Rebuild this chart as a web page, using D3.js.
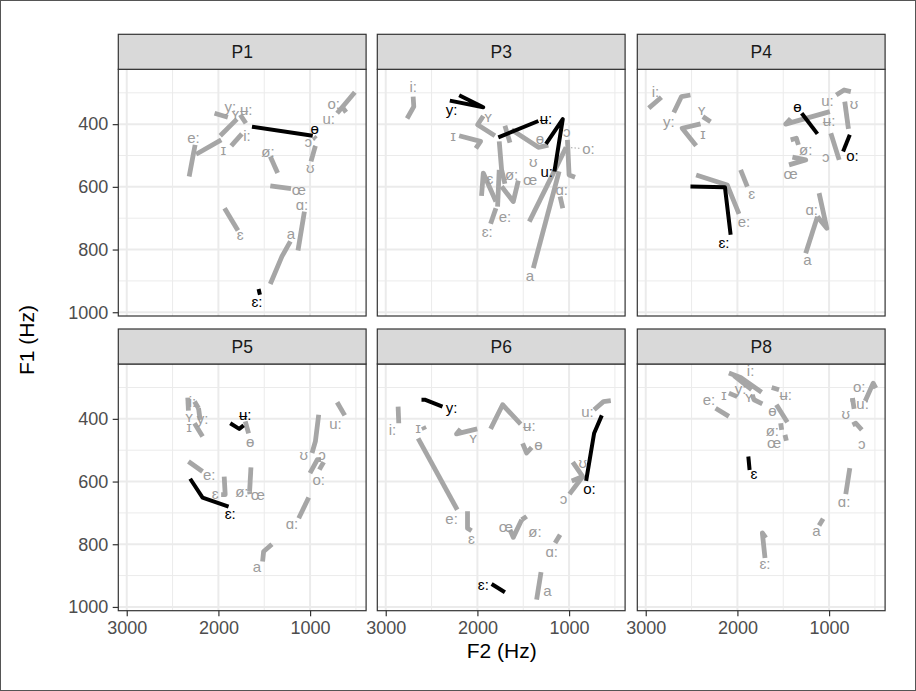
<!DOCTYPE html>
<html><head><meta charset="utf-8">
<script src="https://cdn.jsdelivr.net/npm/d3@7"></script>
<style>
body{margin:0;background:#fff;}
text{font-family:"Liberation Sans",Arial,"Noto Sans","DejaVu Sans",sans-serif;}
text.lab{font-family:"Liberation Sans","Noto Sans","DejaVu Sans",sans-serif;}
</style></head>
<body><svg id="c" width="916" height="691"></svg>
<script>
// ---------- data ----------
const panels = ["P1","P3","P4","P5","P6","P8"];
const xTicks = [3000,2000,1000];
const xMinor = [2500,1500,500];
const yTicks = [400,600,800,1000];
const yMinor = [300,500,700,900];
const xDomain = [3092, 389];
const yDomain = [225, 1012];
// each entry: [vowel, highlighted(1=black), trajectory [[F2,F1],...], label position [F2,F1]]
const P1 = [
 ["y:",0,[[2042,365],[1897,378]],[1871,344]],
 ["ʏ",0,[[1980,437],[1798,384]],[1816,365]],
 ["ʉ:",0,[[1762,370],[1700,397]],[1696,354]],
 ["i:",0,[[1860,469],[1744,431]],[1689,437]],
 ["e:",0,[[2319,567],[2254,466]],[2272,442]],
 ["ɪ",0,[[2243,496],[1969,450]],[1944,480]],
 ["ø:",0,[[1434,503],[1354,556]],[1460,487]],
 ["œ",0,[[1434,597],[1208,606]],[1124,610]],
 ["ɔ:",0,[[960,440],[935,447]],[997,455]],
 ["ʊ",0,[[942,469],[990,519]],[997,537]],
 ["u:",0,[[512,298],[705,365]],[796,381]],
 ["o:",0,[[640,349],[607,362]],[742,333]],
 ["ɑ:",0,[[1062,679],[1132,803]],[1088,657]],
 ["a",0,[[1215,774],[1307,822],[1434,910]],[1208,748]],
 ["ɛ",0,[[1933,668],[1787,739]],[1762,753]],
 ["ɵ",1,[[1634,408],[971,437]],[950,415]],
 ["ɛ:",1,[[1562,926],[1547,944]],[1580,966]]
];
const P3 = [
 ["i:",0,[[2701,312],[2694,344],[2767,382]],[2701,280]],
 ["ʏ",0,[[1936,374],[1998,402],[1809,437]],[1882,376]],
 ["ɪ",0,[[2199,437],[1966,455],[2017,477]],[2264,437]],
 ["ɵ",0,[[1700,405],[1645,459]],[1317,447]],
 ["ʊ",0,[[1627,418],[1335,474],[1226,467]],[1390,519]],
 ["ɔ",0,[[1018,450],[1000,562],[935,569]],[1026,424]],
 ["o:",0,[[1033,474],[1434,711]],[789,477]],
 ["ɑ:",0,[[1098,631],[1069,668]],[1080,610]],
 ["a",0,[[1390,859],[1109,551]],[1426,884]],
 ["ɛ",0,[[1955,629],[1936,556],[1798,647]],[1864,572]],
 ["ø:",0,[[1762,455],[1736,546],[1700,590]],[1627,562]],
 ["œ",0,[[1736,599],[1609,647],[1554,580]],[1426,578]],
 ["e:",0,[[1780,663],[1762,546]],[1700,695]],
 ["ɛ:",0,[[1798,668],[1856,718]],[1893,742]],
 ["y:",1,[[2301,325],[1936,346],[2199,308]],[2282,354]],
 ["ʉ:",1,[[1772,442],[1335,390]],[1252,381]],
 ["u:",1,[[1252,463],[1069,384],[1160,551]],[1244,551]]
];
const P4 = [
 ["i:",0,[[2967,349],[2829,314]],[2894,296]],
 ["y:",0,[[2694,363],[2610,312],[2512,307]],[2748,392]],
 ["ʏ",0,[[2377,376],[2293,392]],[2391,352]],
 ["ɪ",0,[[2450,469],[2603,413],[2402,399]],[2377,429]],
 ["e:",0,[[2450,562],[2111,594],[1983,686]],[1929,711]],
 ["ɛ",0,[[1965,546],[1892,599]],[1845,620]],
 ["ʉ:",0,[[992,360],[1474,400],[1419,382]],[1000,388]],
 ["u:",0,[[922,307],[836,291],[763,296]],[1018,325]],
 ["ʊ",0,[[829,328],[789,415]],[727,335]],
 ["ɔ",0,[[981,429],[890,514]],[1036,503]],
 ["ø:",0,[[1419,450],[1357,445],[1335,466]],[1255,480]],
 ["œ",0,[[1437,530],[1255,514],[1400,505]],[1419,556]],
 ["ɑ:",0,[[1109,620],[1025,732],[1127,695]],[1189,671]],
 ["a",0,[[1255,812],[1127,695]],[1237,833]],
 ["ɵ",1,[[1299,365],[1127,431]],[1346,344]],
 ["o:",1,[[847,487],[774,434]],[745,501]],
 ["ɛ:",1,[[2512,599],[2136,601],[2074,753]],[2147,778]]
];
const P5 = [
 ["i:",0,[[2334,332],[2327,374]],[2283,345]],
 ["ʏ",0,[[2261,345],[2217,366]],[2319,393]],
 ["y:",0,[[2217,366],[2199,403]],[2173,398]],
 ["ɪ",0,[[2261,414],[2173,456]],[2319,424]],
 ["ɵ",0,[[1707,408],[1671,446]],[1653,472]],
 ["e:",0,[[2327,536],[2173,568]],[2101,579]],
 ["ɛ",0,[[1937,584],[1926,642],[1970,642]],[2035,637]],
 ["ø:",0,[[1645,555],[1660,632]],[1744,632]],
 ["œ",0,[[1660,632],[1656,640]],[1569,642]],
 ["u:",0,[[705,347],[622,389]],[724,414]],
 ["ʊ",0,[[906,387],[942,472],[979,509]],[1070,513]],
 ["ɔ",0,[[1001,573],[921,530],[881,530]],[869,515]],
 ["o:",0,[[899,562],[852,538]],[906,594]],
 ["ɑ:",0,[[1124,717],[1015,651]],[1197,733]],
 ["a",0,[[1518,855],[1507,823],[1416,800]],[1580,871]],
 ["ʉ:",1,[[1871,414],[1773,432],[1725,421]],[1707,387]],
 ["ɛ:",1,[[2308,591],[2173,651],[1889,680]],[1871,701]]
];
const P6 = [
 ["i:",0,[[2865,361],[2858,414]],[2927,435]],
 ["ɪ",0,[[2592,424],[2574,435]],[2647,428]],
 ["e:",0,[[2647,462],[2220,690]],[2282,717]],
 ["ʏ",0,[[2002,432],[2228,448],[2184,432]],[2046,459]],
 ["ʉ:",0,[[1856,432],[1725,355],[1528,417]],[1434,421]],
 ["ɵ",0,[[1507,478],[1463,509],[1408,491]],[1335,483]],
 ["ɛ",0,[[2108,695],[2108,749],[2064,757]],[2064,783]],
 ["œ",0,[[1645,754],[1609,778],[1517,722]],[1689,743]],
 ["ø:",0,[[1517,722],[1463,711]],[1372,759]],
 ["ɑ:",0,[[1153,796],[1098,770]],[1190,823]],
 ["a",0,[[1354,977],[1306,889]],[1237,948]],
 ["ɔ",0,[[996,640],[851,584]],[1062,653]],
 ["ʊ",0,[[960,538],[851,584],[971,598]],[851,538]],
 ["u:",0,[[727,371],[625,345],[545,342]],[800,377]],
 ["y:",1,[[2610,339],[2574,339],[2381,361]],[2282,364]],
 ["ɛ:",1,[[1845,927],[1700,953]],[1936,929]],
 ["o:",1,[[814,598],[727,446],[643,389]],[778,623]]
];
const P8 = [
 ["i:",0,[[2093,254],[1965,268],[1736,315]],[1856,247]],
 ["y:",0,[[2038,262],[1845,307]],[1965,302]],
 ["ɪ",0,[[2093,318],[2002,329]],[2147,321]],
 ["ʏ",0,[[1838,323],[1819,339],[1728,352]],[1874,329]],
 ["e:",0,[[2238,366],[2093,392]],[2311,339]],
 ["ʉ:",0,[[1626,300],[1546,307]],[1473,323]],
 ["ɵ",0,[[1575,355],[1455,411]],[1619,374]],
 ["ø:",0,[[1528,414],[1517,435]],[1619,438]],
 ["œ",0,[[1481,451],[1466,470]],[1601,474]],
 ["o:",0,[[606,343],[519,286],[490,302]],[672,297]],
 ["u:",0,[[745,334],[727,368]],[635,350]],
 ["ʊ",0,[[745,334],[740,345]],[818,382]],
 ["ɔ",0,[[745,419],[708,414],[643,435]],[643,478]],
 ["ɑ:",0,[[818,640],[774,557]],[836,664]],
 ["a",0,[[1109,740],[1065,719]],[1138,757]],
 ["ɛ:",0,[[1699,844],[1728,764],[1690,780]],[1699,863]],
 ["ɛ",1,[[1881,520],[1867,563]],[1819,573]]
];
const panelData = [P1, P3, P4, P5, P6, P8];
// leader segments (label to its point), drawn dotted: [panel index, vowel]
const leaders = [[1, "o:"]];

// ---------- layout ----------
const svg = d3.select("#c");
svg.append("rect").attr("x",0.5).attr("y",0.5).attr("width",915).attr("height",690)
  .attr("fill","#fff").attr("stroke","#555").attr("stroke-width",1);

const lefts = [118.3, 377.3, 637.3], tops = [69.3, 364];
const pw = 247.8, ph = 246.7, stripH = 35;
const x = d3.scaleLinear().domain(xDomain).range([0, pw]);
const y = d3.scaleLinear().domain(yDomain).range([0, ph]);
const GRAY = "#a6a6a6", BLACK = "#000";
const line = d3.line().x(d => x(d[0])).y(d => y(d[1]));
const fmt = d3.format("d");

panels.forEach((name, i) => {
  const col = i % 3, row = Math.floor(i / 3);
  const g = svg.append("g").attr("transform", `translate(${lefts[col]},${tops[row]})`);
  const cid = "clip" + i;
  g.append("clipPath").attr("id", cid).append("rect").attr("width", pw).attr("height", ph);
  g.append("rect").attr("width", pw).attr("height", ph).attr("fill", "#fff");
  // grid
  const grid = g.append("g");
  grid.selectAll(".xm").data(xMinor).join("line").attr("x1", d=>x(d)).attr("x2", d=>x(d))
    .attr("y1",0).attr("y2",ph).attr("stroke","#ebebeb").attr("stroke-width",1);
  grid.selectAll(".ym").data(yMinor).join("line").attr("y1", d=>y(d)).attr("y2", d=>y(d))
    .attr("x1",0).attr("x2",pw).attr("stroke","#ebebeb").attr("stroke-width",1);
  grid.selectAll(".xM").data(xTicks).join("line").attr("x1", d=>x(d)).attr("x2", d=>x(d))
    .attr("y1",0).attr("y2",ph).attr("stroke","#ebebeb").attr("stroke-width",2);
  grid.selectAll(".yM").data(yTicks).join("line").attr("y1", d=>y(d)).attr("y2", d=>y(d))
    .attr("x1",0).attr("x2",pw).attr("stroke","#ebebeb").attr("stroke-width",2);

  const data = panelData[i];
  const marks = g.append("g").attr("clip-path", `url(#${cid})`);
  leaders.filter(l => l[0] === i).forEach(l => {
    const d = data.find(e => e[0] === l[1]);
    marks.append("line").attr("x1", x(d[3][0]) - 9).attr("y1", y(d[3][1]))
      .attr("x2", x(d[2][0][0])).attr("y2", y(d[2][0][1]))
      .attr("stroke", GRAY).attr("stroke-width", 1).attr("stroke-dasharray", "1.5,2");
  });
  marks.selectAll("path.g").data(data.filter(d => !d[1])).join("path")
    .attr("d", d => line(d[2])).attr("fill","none").attr("stroke", GRAY)
    .attr("stroke-width", 4.8).attr("stroke-linejoin","round");
  marks.selectAll("path.b").data(data.filter(d => d[1])).join("path")
    .attr("d", d => line(d[2])).attr("fill","none").attr("stroke", BLACK)
    .attr("stroke-width", 4).attr("stroke-linejoin","round");
  marks.selectAll("text").data(data).join("text").attr("class","lab")
    .attr("x", d => x(d[3][0])).attr("y", d => y(d[3][1]))
    .attr("text-anchor","middle").attr("dominant-baseline","central")
    .attr("font-size", 15).attr("fill", d => d[1] ? "#000" : "#9c9c9c")
    .text(d => d[0]);
  g.append("rect").attr("width", pw).attr("height", ph).attr("fill","none")
    .attr("stroke","#333").attr("stroke-width",1.2);
  // strip
  g.append("rect").attr("x",0).attr("y",-stripH).attr("width",pw).attr("height",stripH)
    .attr("fill","#d9d9d9").attr("stroke","#333").attr("stroke-width",1.2);
  g.append("text").attr("x", pw/2).attr("y", -stripH/2).attr("text-anchor","middle")
    .attr("dominant-baseline","central").attr("font-size",17.5).attr("fill","#1a1a1a").text(name);

  if (col === 0) {
    const ax = g.append("g").call(d3.axisLeft(y).tickValues(yTicks).tickFormat(fmt).tickSize(5.6).tickPadding(4.5));
    ax.select(".domain").remove();
    ax.selectAll("line").attr("stroke","#333").attr("stroke-width",1.2);
    ax.selectAll("text").attr("font-size",18).attr("fill","#4d4d4d");
  }
  if (row === 1) {
    const ax = g.append("g").attr("transform",`translate(0,${ph})`)
      .call(d3.axisBottom(x).tickValues(xTicks).tickFormat(fmt).tickSize(5.6).tickPadding(4.5));
    ax.select(".domain").remove();
    ax.selectAll("line").attr("stroke","#333").attr("stroke-width",1.2);
    ax.selectAll("text").attr("font-size",18).attr("fill","#4d4d4d");
  }
});

svg.append("text").attr("x", (lefts[0] + lefts[2] + pw) / 2).attr("y", 650)
  .attr("text-anchor","middle").attr("dominant-baseline","central")
  .attr("font-size",21).attr("fill","#000").text("F2 (Hz)");
svg.append("text").attr("transform", `translate(26,${(tops[0] + tops[1] + ph) / 2}) rotate(-90)`)
  .attr("text-anchor","middle").attr("dominant-baseline","central")
  .attr("font-size",21).attr("fill","#000").text("F1 (Hz)");
</script></body></html>
